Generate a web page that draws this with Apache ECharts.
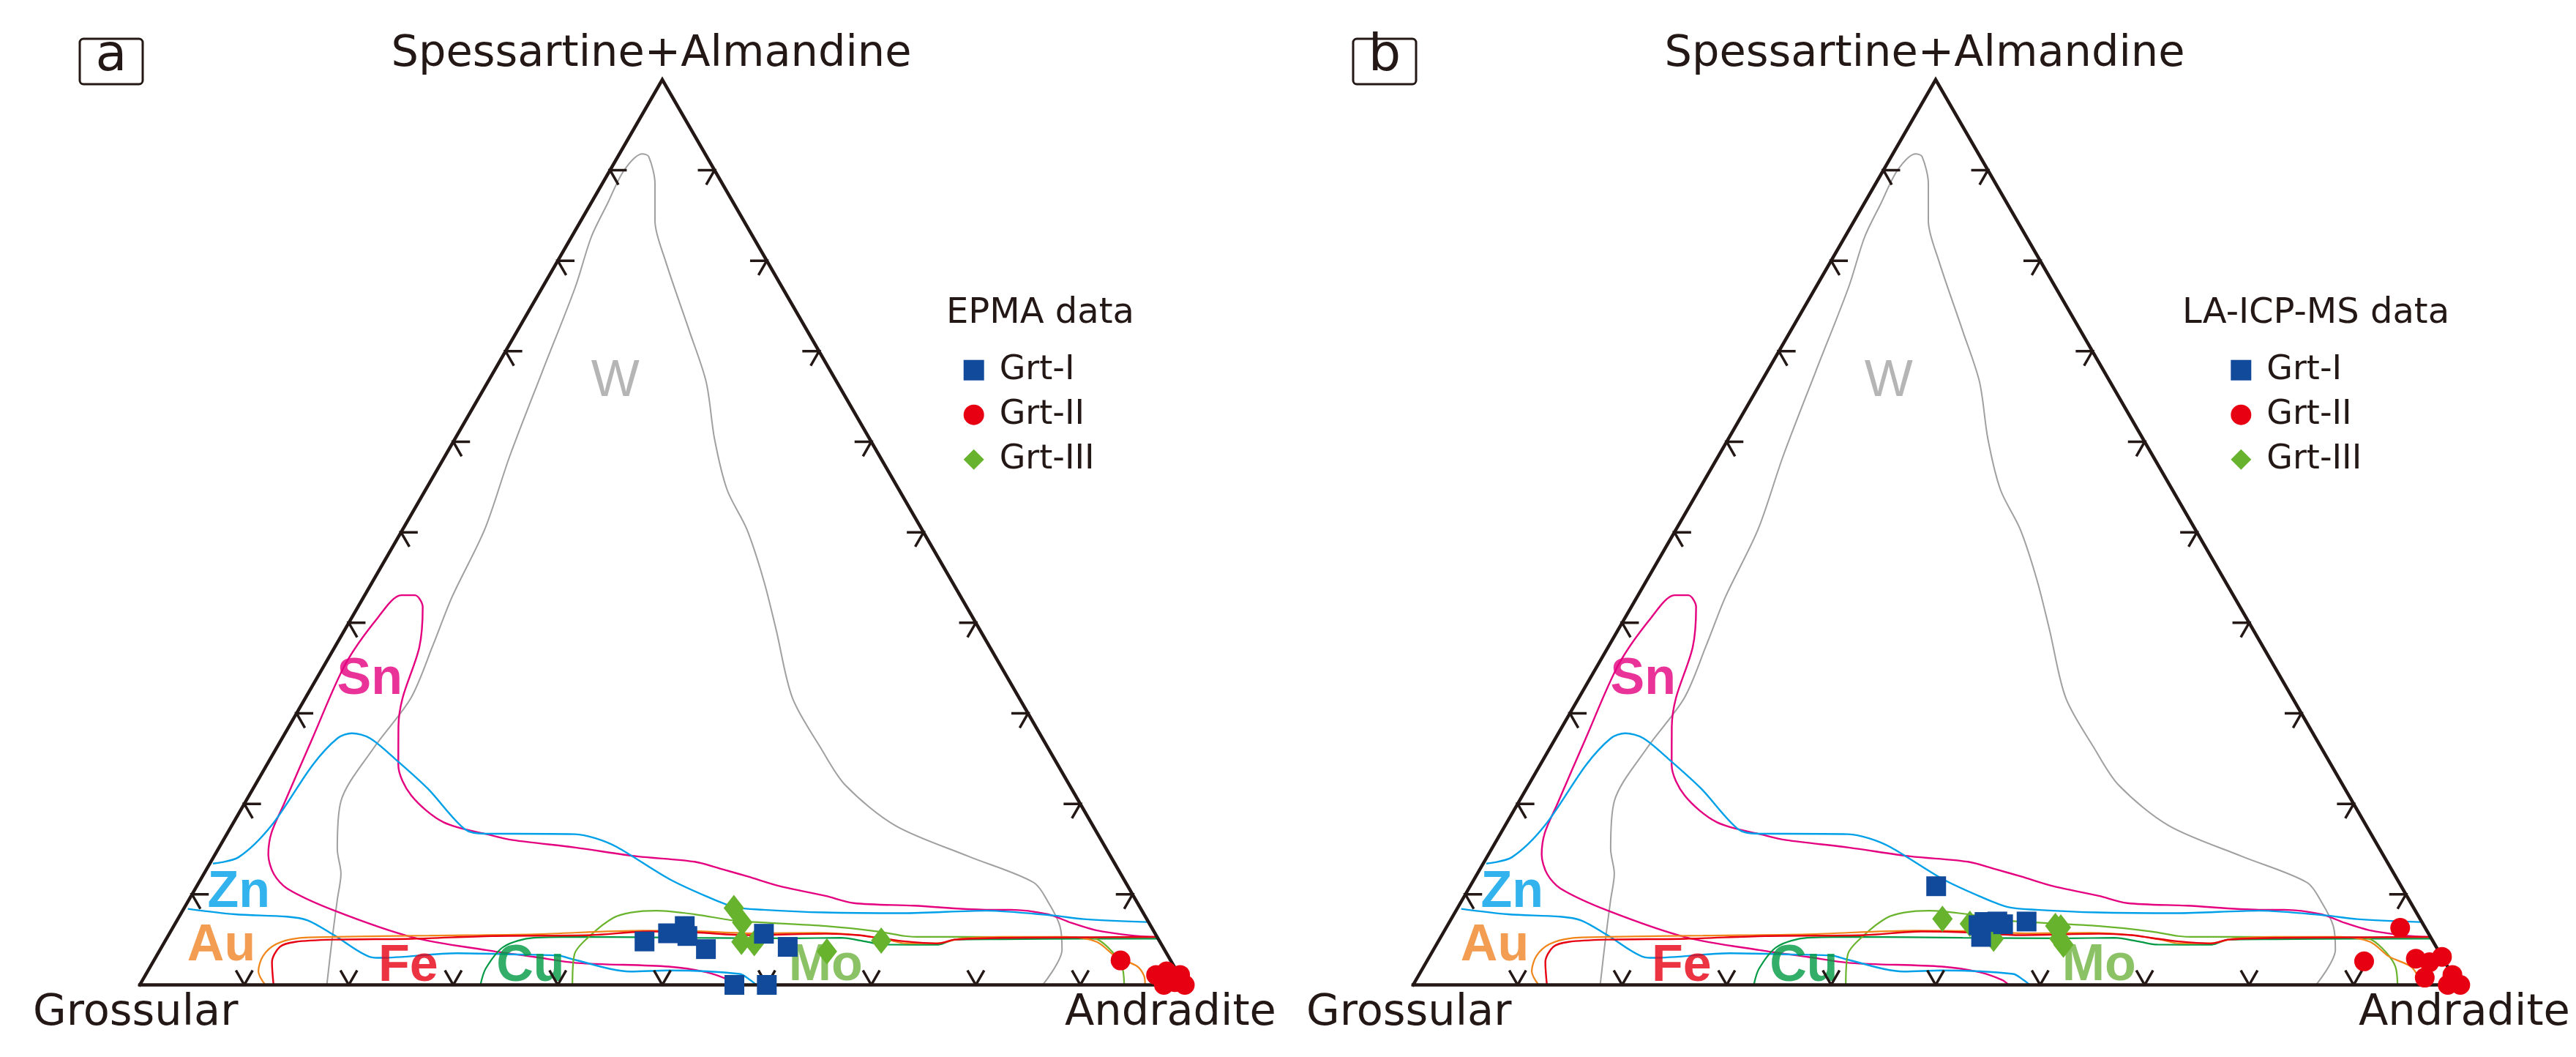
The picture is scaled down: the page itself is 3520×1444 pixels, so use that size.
<!DOCTYPE html>
<html>
<head>
<meta charset="utf-8">
<script src="https://cdn.jsdelivr.net/npm/echarts@6.0.0/dist/echarts.min.js"></script>
<style>html,body{margin:0;padding:0;background:#fff}#c{width:3520px;height:1444px}</style>
</head>
<body>
<div id="c"></div>
<script>
// ---- Ternary data: each point is [Andradite %, Spessartine+Almandine %]; Grossular = 100 - sum ----
const tickValues = [10, 20, 30, 40, 50, 60, 70, 80, 90];
const seriesNames = ['Grt-I', 'Grt-II', 'Grt-III'];

// Panel a (EPMA data)
const grtI_EPMA = [[45.9,4.8],[47.7,5.7],[48.9,6.5],[49.7,5.4],[52.2,3.95],[56.9,5.65],[59.9,4.2],[56.9,0],[60.0,0]];
const grtII_EPMA = [[92.5,2.7],[96.7,1.1],[97.5,1.5],[99.0,1.1],[98.0,0],[100.0,0],[98.9,0.3]];
const grtIII_EPMA = [[52.6,8.5],[54.2,6.9],[55.2,4.75],[56.5,4.6],[63.9,3.7],[68.5,4.9]];

// Panel b (LA-ICP-MS data)
const grtI_LA = [[44.6,10.9],[51.2,6.95],[52.4,7.0],[53.1,6.7],[51.7,5.3],[50.8,6.6],[55.2,7.0]];
const grtII_LA = [[91.3,6.3],[89.7,2.6],[94.5,2.9],[96.0,2.5],[96.9,3.1],[96.4,0.8],[98.9,1.1],[99.0,0],[100.2,0]];
const grtIII_LA = [[47.0,7.3],[49.9,6.75],[53.0,5.1],[58.2,6.5],[58.8,6.35],[59.3,5.1],[60.0,4.45]];

// Skarn deposit fields (outlines)
const fieldW = [[17.9,0],[15.9,5.0],[14.2,9.4],[13.1,12.3],[11.4,15.0],[9.1,20.3],[9.3,26.2],[10.1,31.7],[9.3,37.5],[8.45,42.9],[7.85,50.3],[6.2,58.4],[4.65,67.7],[3.15,77.0],[1.9,82.6],[1.6,86.3],[1.35,90.0],[2.2,91.8],[2.95,91.5],[5.05,88.5],[7.1,84.4],[10.3,80.0],[16.5,72.2],[20.9,66.6],[24.85,60.3],[28.85,54.7],[32.95,50.3],[37.35,44.7],[41.3,39.2],[46.6,31.7],[52.15,26.1],[56.5,22.05],[63.5,17.6],[72.2,14.2],[79.9,11.3],[82.5,9.0],[84.8,6.5],[86.3,3.9],[86.4,0]];
const fieldSn = [[94.6,5.3],[92.3,5.45],[88.4,6.06],[85.7,6.86],[83.0,7.8],[79.2,8.3],[76.8,8.3],[69.7,8.75],[63.8,9.04],[60.7,9.83],[55.8,10.9],[52.2,11.97],[49.4,12.76],[46.3,13.6],[40.5,14.2],[34.1,15.17],[27.7,16.0],[25.6,16.47],[20.1,17.96],[15.5,20.94],[12.6,24.28],[10.5,28.5],[9.3,31.7],[8.1,37.3],[6.2,41.75],[4.8,43.05],[3.5,43.05],[2.5,40.6],[1.96,35.4],[2.9,27.25],[3.8,20.0],[4.2,16.8],[5.1,14.4],[6.7,12.25],[8.8,10.63],[14.5,8.21],[23.5,5.25],[31.7,3.77],[36.2,3.09],[40.7,2.42],[49.6,2.02],[53.5,1.4],[56.1,0.54],[57.0,0]];
const fieldZnUpper = [[0.3,13.4],[2.4,14.1],[3.8,17.6],[4.4,24.3],[5.3,27.25],[6.4,27.8],[8.4,27.25],[11.9,25.0],[16.7,21.7],[22.5,17.2],[24.7,16.7],[27.3,16.7],[33.3,16.65],[35.5,16.2],[38.1,15.2],[44.8,11.7],[49.3,9.79],[52.6,8.6],[55.5,8.3],[61.5,8.0],[69.1,7.92],[76.9,8.2],[83.5,7.67],[86.7,7.27],[92.9,6.94]];
const fieldZnLower = [[0.4,8.4],[5.2,7.8],[10.3,7.54],[12.5,7.13],[15.8,5.52],[20.5,3.09],[21.6,2.99],[28.6,3.5],[34.0,3.37],[38.5,3.23],[40.0,2.83],[46.2,1.48],[49.8,1.6],[56.8,1.21],[58.2,0.5],[59.0,0]];
const fieldAu = [[12.0,0],[10.6,1.5],[10.2,3.2],[10.8,4.5],[12.5,5.15],[16,5.3],[25,5.45],[35,5.6],[45,6.0],[50,5.95],[56,5.7],[62,5.75],[66,5.5],[69,5.0],[71,4.6],[74,4.6],[76,5.1],[80,5.3],[86,5.3],[89.2,4.75],[91.8,3.14],[94.4,2.06],[95.6,1.0],[96.2,0]];
const fieldFe = [[12.8,0],[11.4,2.5],[11.3,4.2],[12.5,4.75],[16,5.0],[23.5,5.1],[31,5.4],[40.4,5.5],[45.7,5.9],[50.2,5.8],[55.4,5.5],[62.8,5.65],[66,5.5],[68,5.2],[70.5,4.84],[74.1,4.58],[75.5,5.0],[80,5.2],[88,5.25],[94.7,5.3]];
const fieldCu = [[32.6,0],[32.2,1.8],[32.7,4.2],[35.1,5.2],[40,5.3],[50,5.2],[60,5.15],[64.5,5.2],[67,4.8],[69,4.45],[74.2,4.44],[75.5,5.0],[80,5.05],[88,5.1],[94.9,5.1]];
const fieldMo = [[41.4,0],[39.9,3.4],[40.4,5.5],[41.6,7.4],[43,8.0],[45.3,8.2],[49.2,7.8],[53.3,7.1],[56,6.9],[62.4,6.5],[67.7,5.9],[70.5,5.4],[72.2,5.3],[76.1,5.3],[87.7,5.25],[89.2,5.0],[91.3,3.6],[93.0,2.0],[94.2,0]];

const fieldLabelNames = ['W', 'Sn', 'Zn', 'Au', 'Fe', 'Cu', 'Mo'];
const fieldLabelPos = [[12.2,66.6],[5.15,33.7],[4.4,10.15],[5.66,4.3],[24.7,1.98],[36.4,1.98],[64.6,2.06]];

// ---- Styling / layout ----
const SQ = Math.sqrt(3) / 2;
const toXY = p => [p[0] + p[1] / 2, p[1] * SQ];
const INK = '#231815';
const FONT = 'DejaVu Sans';
const GRID_W = 1428, GRID_H = GRID_W * SQ, BASE_Y = 1345.5;
const panelLeft = [191, 1931];
const TICK_L = 1.6;

const fieldStyles = [
  {pts: fieldW, color: '#a0a0a0', width: 2},
  {pts: fieldSn, color: '#e4007f', width: 2.4},
  {pts: fieldZnUpper, color: '#00a0e9', width: 2.4},
  {pts: fieldZnLower, color: '#00a0e9', width: 2.4},
  {pts: fieldCu, color: '#009944', width: 2.2},
  {pts: fieldMo, color: '#6ab42d', width: 2.2},
  {pts: fieldAu, color: '#f08519', width: 2.2},
  {pts: fieldFe, color: '#e60012', width: 2.4}
];
const labelColors = {W: '#a3a3a3', Sn: '#e4007f', Zn: '#00a0e9', Au: '#ef8426', Fe: '#e60012', Cu: '#009a44', Mo: '#6db33f'};
const markerColors = ['#124a9b', '#e60012', '#67b32e'];

function tickSegments() {
  const segs = [];
  tickValues.forEach(v => {
    let c = toXY([v, 0]);
    segs.push({coords: [[c[0] - 0.5 * TICK_L, c[1] + SQ * TICK_L], c, [c[0] + 0.5 * TICK_L, c[1] + SQ * TICK_L]]});
    c = toXY([0, v]);
    segs.push({coords: [[c[0] + TICK_L, c[1]], c, [c[0] + 0.5 * TICK_L, c[1] - SQ * TICK_L]]});
    c = toXY([100 - v, v]);
    segs.push({coords: [[c[0] - TICK_L, c[1]], c, [c[0] - 0.5 * TICK_L, c[1] - SQ * TICK_L]]});
  });
  return segs;
}

function panelSeries(i, grtI, grtII, grtIII) {
  const ax = {xAxisIndex: i, yAxisIndex: i};
  const out = [];
  fieldStyles.forEach(f => out.push(Object.assign({
    type: 'line', data: f.pts.map(toXY), smooth: 0.3, symbol: 'none', clip: false, silent: true, z: 3,
    lineStyle: {color: f.color, width: f.width}
  }, ax)));
  out.push(Object.assign({
    type: 'line', data: [[0,0],[100,0],[0,100],[0,0]].map(toXY), symbol: 'none', clip: false, silent: true, z: 5,
    lineStyle: {color: INK, width: 4.5, join: 'miter', cap: 'square'}
  }, ax));
  out.push(Object.assign({
    type: 'lines', coordinateSystem: 'cartesian2d', polyline: true, data: tickSegments(), silent: true, z: 5,
    lineStyle: {color: INK, width: 3.5, opacity: 1}
  }, ax));
  out.push(Object.assign({
    type: 'scatter', symbolSize: 1, silent: true, z: 4, clip: false,
    itemStyle: {color: 'transparent'},
    data: fieldLabelNames.map((n, k) => ({
      name: n, value: toXY(fieldLabelPos[k]),
      label: {color: labelColors[n], fontWeight: n === 'W' ? 'normal' : 'bold'}
    })),
    label: {show: true, position: 'inside', formatter: '{b}', fontFamily: 'Liberation Sans', fontSize: 70}
  }, ax));
  out.push(Object.assign({name: 'Grt-III', type: 'scatter', symbol: 'diamond', symbolSize: [28, 36], z: 10, clip: false,
    itemStyle: {color: markerColors[2], opacity: 1}, data: grtIII.map(toXY)}, ax));
  out.push(Object.assign({name: 'Grt-I', type: 'scatter', symbol: 'rect', symbolSize: 27, z: 11, clip: false,
    itemStyle: {color: markerColors[0], opacity: 1}, data: grtI.map(toXY)}, ax));
  out.push(Object.assign({name: 'Grt-II', type: 'scatter', symbol: 'circle', symbolSize: 27, z: 12, clip: false,
    itemStyle: {color: markerColors[1], opacity: 1}, data: grtII.map(toXY)}, ax));
  return out;
}

function legendFor(left) {
  return {
    left: left, top: 482.7, orient: 'vertical', padding: 0, itemWidth: 28, itemHeight: 28, itemGap: 15,
    selectedMode: false,
    textStyle: {fontFamily: FONT, fontSize: 46, color: INK, lineHeight: 46, padding: [0, 0, 0, 16]},
    data: [{name: seriesNames[0], icon: 'rect'}, {name: seriesNames[1], icon: 'circle'}, {name: seriesNames[2], icon: 'diamond'}]
  };
}

function txt(text, x, y, size, align) {
  return {type: 'text', x: x, y: y, silent: true, z: 20,
    style: {text: text, fontFamily: FONT, fontSize: size, fill: INK, align: align, verticalAlign: 'middle'}};
}

const graphics = [];
[0, 1].forEach(i => {
  const dx = i === 0 ? 0 : 1740;
  graphics.push(txt('Spessartine+Almandine', 890 + dx, 74.6, 59, 'center'));
  graphics.push(txt('Grossular', 45 + dx, 1384.6, 59, 'left'));
  graphics.push(txt(i === 0 ? 'EPMA data' : 'LA-ICP-MS data', i === 0 ? 1293 : 2982, 428.4, 48, 'left'));
  graphics.push({type: 'rect', silent: true, z: 20, shape: {x: 109 + dx, y: 53, width: 86, height: 62, r: 5},
    style: {fill: 'none', stroke: INK, lineWidth: 3}});
  graphics.push(txt(i === 0 ? 'a' : 'b', 152 + dx, 77.5, 70, 'center'));
});
graphics.push(txt('Andradite', 1455, 1384.6, 59, 'left'));
graphics.push(txt('Andradite', 3223, 1384.6, 59, 'left'));

const option = {
  animation: false,
  backgroundColor: '#ffffff',
  grid: panelLeft.map(l => ({left: l, top: BASE_Y - GRID_H, width: GRID_W, height: GRID_H, containLabel: false})),
  xAxis: [0, 1].map(i => ({gridIndex: i, type: 'value', min: 0, max: 100, show: false})),
  yAxis: [0, 1].map(i => ({gridIndex: i, type: 'value', min: 0, max: 100 * SQ, show: false})),
  legend: [legendFor(1316.7), legendFor(3048.3)],
  series: panelSeries(0, grtI_EPMA, grtII_EPMA, grtIII_EPMA).concat(panelSeries(1, grtI_LA, grtII_LA, grtIII_LA)),
  graphic: graphics
};

const chart = echarts.init(document.getElementById('c'), null, {renderer: 'canvas', width: 3520, height: 1444});
chart.setOption(option);
</script>
</body>
</html>
